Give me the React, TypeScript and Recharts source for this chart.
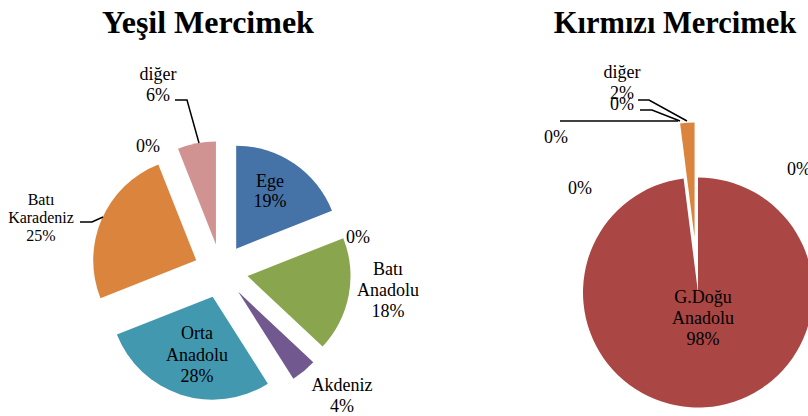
import React from 'react'
import { PieChart, Pie, Cell, Sector } from 'recharts'

// Yeşil Mercimek (left pie), clockwise from 12 o'clock
const yesilNames = ['Ege', 'G.Doğu Anadolu', 'Batı Anadolu', 'Akdeniz', 'Orta Anadolu', 'Batı Karadeniz', 'Doğu Anadolu', 'diğer']
const yesilValues = [19, 0, 18, 4, 28, 25, 0, 6]

// Kırmızı Mercimek (right pie)
const kirmiziNames = ['Ege', 'G.Doğu Anadolu', 'Akdeniz', 'Orta Anadolu', 'Batı Anadolu', 'diğer']
const kirmiziValues = [0, 98, 0, 0, 0, 2]

// Excel 2007 default point colours, by position
const palette = ['#4572A7', '#AA4643', '#89A54E', '#71588F', '#4198AF', '#DB843D', '#93A9CF', '#D19392']

const FONT = '"Liberation Serif", "Times New Roman", serif'

type Spot = { dx: number; dy: number; lh?: number; size?: number; line?: [number, number][] } | null

// label spots, relative to pie centre (first baseline)
const yesilSpots: Spot[] = [
  { dx: 49, dy: -84, lh: 20 },
  { dx: 137, dy: -28 },
  { dx: 167, dy: 4, lh: 21 },
  { dx: 121, dy: 120, lh: 21 },
  { dx: -24, dy: 68, lh: 21.5 },
  { dx: -180, dy: -66, lh: 18, size: 16, line: [[-141, -49], [-129, -49], [-118, -54]] },
  { dx: -73, dy: -119 },
  { dx: -63, dy: -191, lh: 21, line: [[-46, -171], [-34, -171], [-22, -128]] },
]

const kirmiziSpots: Spot[] = [
  { dx: 101, dy: -117.5 },
  { dx: 5, dy: 10.5, lh: 21 },
  { dx: -118, dy: -99 },
  { dx: -142, dy: -149.5, line: [[-138, -171.5], [-20, -171.5]] },
  { dx: -76, dy: -182.5, line: [[-58, -182.5], [-46, -182.5], [-18, -171.5]] },
  { dx: -76, dy: -214.5, lh: 21, line: [[-60, -192.5], [-49, -192.5], [-11, -171.5]] },
]

const yesilExplode: Record<string, number> = Object.fromEntries(yesilNames.map((n) => [n, 27]))
const kirmiziExplode: Record<string, number> = { 'diğer': 55 }

const toRows = (names: string[], values: number[]) => names.map((name, i) => ({ name, value: values[i] }))

function explodedSector(offsets: Record<string, number>) {
  return (props: any) => {
    const name = props.payload?.name ?? props.name
    const d = offsets[name] ?? 0
    const rad = (-props.midAngle * Math.PI) / 180
    return (
      <Sector
        cx={props.cx + d * Math.cos(rad)}
        cy={props.cy + d * Math.sin(rad)}
        innerRadius={props.innerRadius}
        outerRadius={props.outerRadius}
        startAngle={props.startAngle}
        endAngle={props.endAngle}
        fill={props.fill}
        stroke="none"
      />
    )
  }
}

function makeLabel(spots: Spot[]) {
  return (props: any) => {
    const spot = spots[props.index]
    if (!spot) return null
    const { cx, cy, percent, value } = props
    const name: string = props.payload?.name ?? props.name
    const pct = `${Math.round(percent * 100)}%`
    const lines = value > 0 ? [...name.split(' '), pct] : [pct]
    const lh = spot.lh ?? 21
    return (
      <g>
        {spot.line && (
          <polyline
            points={spot.line.map(([x, y]) => `${cx + x},${cy + y}`).join(' ')}
            fill="none"
            stroke="#000"
            strokeWidth={1.5}
          />
        )}
        <text x={cx + spot.dx} y={cy + spot.dy} textAnchor="middle" fontFamily={FONT} fontSize={spot.size ?? 18} fill="#000">
          {lines.map((t, i) => (
            <tspan key={i} x={cx + spot.dx} dy={i === 0 ? 0 : lh}>
              {t}
            </tspan>
          ))}
        </text>
      </g>
    )
  }
}

export default function App() {
  const yesil = toRows(yesilNames, yesilValues)
  const kirmizi = toRows(kirmiziNames, kirmiziValues)
  return (
    <div style={{ position: 'absolute', left: 0, top: 0, width: 808, height: 416, background: '#fff', overflow: 'hidden' }}>
      <PieChart width={808} height={416} margin={{ top: 0, right: 0, bottom: 0, left: 0 }}>
        <Pie
          data={yesil}
          dataKey="value"
          nameKey="name"
          cx={221}
          cy={271}
          outerRadius={103}
          startAngle={90}
          endAngle={-270}
          stroke="none"
          shape={explodedSector(yesilExplode)}
          label={makeLabel(yesilSpots)}
          labelLine={false}
          isAnimationActive={false}
        >
          {yesil.map((r, i) => (
            <Cell key={r.name} fill={palette[i % palette.length]} />
          ))}
        </Pie>
        <Pie
          data={kirmizi}
          dataKey="value"
          nameKey="name"
          cx={698}
          cy={292.5}
          outerRadius={115}
          startAngle={90}
          endAngle={-270}
          stroke="none"
          shape={explodedSector(kirmiziExplode)}
          label={makeLabel(kirmiziSpots)}
          labelLine={false}
          isAnimationActive={false}
        >
          {kirmizi.map((r, i) => (
            <Cell key={r.name} fill={palette[i % palette.length]} />
          ))}
        </Pie>
      </PieChart>
      <svg width={808} height={416} style={{ position: 'absolute', left: 0, top: 0, pointerEvents: 'none' }}>
        <text x={208} y={33} textAnchor="middle" fontFamily={FONT} fontSize={32} fontWeight="bold">
          Yeşil Mercimek
        </text>
        <text x={675} y={33} textAnchor="middle" fontFamily={FONT} fontSize={30.5} fontWeight="bold">
          Kırmızı Mercimek
        </text>
      </svg>
    </div>
  )
}
